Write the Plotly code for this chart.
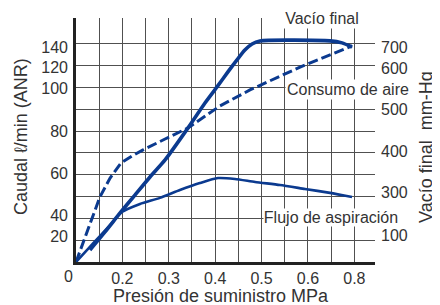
import plotly.graph_objects as go

# Chart coordinates are in grid-cell units (the printed chart uses a non-uniform scale)
# x: one unit per vertical grid line; y: one unit per horizontal grid line (bottom = 0)
vacio_x = [0.60, 1.25, 1.90, 2.54, 3.19, 3.84, 4.83, 5.56, 6.08, 6.55, 6.94, 7.28, 7.59, 7.93, 10.95, 11.47, 11.90]
vacio_y = [0.55, 1.38, 2.25, 3.07, 3.90, 4.68, 6.15, 7.29, 8.03, 8.72, 9.27, 9.72, 10.00, 10.14, 10.14, 10.05, 9.86]

flujo_x = [0, 0.52, 1.03, 1.55, 1.98, 2.76, 3.62, 4.48, 5.34, 6.12, 6.85, 7.72, 8.79, 9.87, 10.95, 11.90]
flujo_y = [0, 0.60, 1.19, 1.79, 2.29, 2.66, 2.94, 3.30, 3.62, 3.85, 3.81, 3.67, 3.53, 3.35, 3.17, 2.98]

consumo_x = [0, 0.52, 1.03, 1.47, 1.94, 2.41, 2.89, 3.84, 4.83, 6.21, 7.50, 9.66, 11.90]
consumo_y = [0, 1.51, 2.98, 3.85, 4.54, 4.86, 5.14, 5.64, 6.15, 7.16, 7.89, 8.94, 9.91]

x_grid = list(range(13))
x_ticktext = ["", "", "0.2", "", "0.3", "", "0.4", "", "0.5", "", "0.6", "", "0.8"]
y_grid = list(range(1, 11))
left_tickvals = [9.82, 8.94, 7.98, 5.97, 4.08, 2.16, 1.19]
left_ticktext = ["140", "120", "100", "80", "60", "40", "20"]
right_tickvals = [9.85, 8.90, 7.02, 5.06, 3.18, 1.24]
right_ticktext = ["700", "600", "500", "400", "300", "100"]

XR = [0, 12.89]
YR = [0, 11.19]
BLUE = "#0b3a8f"
TXT = "#333333"
FONT = "Liberation Sans, Arial, sans-serif"

fig = go.Figure()
fig.add_trace(go.Scatter(x=flujo_x, y=flujo_y, mode="lines", line=dict(color=BLUE, width=2.6, shape="spline", smoothing=0.6), hoverinfo="skip"))
fig.add_trace(go.Scatter(x=consumo_x, y=consumo_y, mode="lines", line=dict(color=BLUE, width=3, dash="10px,4px"), hoverinfo="skip"))
fig.add_trace(go.Scatter(x=vacio_x, y=vacio_y, mode="lines", line=dict(color=BLUE, width=3.6, shape="spline", smoothing=0.6), hoverinfo="skip"))
fig.add_trace(go.Scatter(x=[None], y=[None], yaxis="y2", showlegend=False, hoverinfo="skip"))
fig.add_trace(go.Scatter(x=[None], y=[None], yaxis="y3", showlegend=False, hoverinfo="skip"))

# page body has an 8px margin, so the figure is 8px smaller than the window
fig.update_layout(
    width=432, height=297,
    margin=dict(l=68, r=65, t=10, b=43, autoexpand=False),
    paper_bgcolor="white", plot_bgcolor="white",
    showlegend=False,
    font=dict(family=FONT, size=16, color=TXT),
    xaxis=dict(range=XR, tickmode="array", tickvals=x_grid, ticktext=x_ticktext,
               showgrid=True, gridcolor="#505050", gridwidth=1.4, zeroline=False,
               showline=True, linecolor="#222", linewidth=2.5, ticks="", automargin=False,
               tickfont=dict(size=16, color=TXT), ticklabelstandoff=0),
    yaxis=dict(range=YR, tickmode="array", tickvals=y_grid, showticklabels=False,
               showgrid=True, gridcolor="#505050", gridwidth=1.4, zeroline=False, automargin=False,
               showline=True, linecolor="#222", linewidth=2.5, ticks=""),
    yaxis2=dict(range=YR, overlaying="y", side="left", tickmode="array",
                tickvals=left_tickvals, ticktext=left_ticktext, showgrid=False, automargin=False,
                zeroline=False, showline=False, ticks="", ticklabelstandoff=7,
                tickfont=dict(size=16, color=TXT)),
    yaxis3=dict(range=YR, overlaying="y", side="right", tickmode="array",
                tickvals=right_tickvals, ticktext=right_ticktext, showgrid=False, automargin=False,
                zeroline=False, showline=False, ticks="", ticklabelstandoff=5,
                tickfont=dict(size=16, color=TXT)),
)

ann = dict(showarrow=False, xanchor="center", yanchor="middle", font=dict(family=FONT, size=16, color=TXT))
fig.add_annotation(x=0, y=0, xref="x", yref="y", text="0", xshift=-8, yshift=-14, **ann)
fig.add_annotation(x=10.6, y=11.19, xref="x", yref="y", text="Vacío final", bgcolor="white",
                   width=100, height=20, borderpad=0, **ann)
fig.add_annotation(x=11.72, y=7.89, xref="x", yref="y", text="Consumo de aire", bgcolor="white",
                   width=124, height=19, borderpad=0, **ann)
fig.add_annotation(x=10.99, y=2.02, xref="x", yref="y", text="Flujo de aspiración", bgcolor="white",
                   width=134, height=17, borderpad=0, **ann)

title = dict(showarrow=False, xref="paper", yref="paper", xanchor="center", yanchor="middle",
             font=dict(family=FONT, size=18, color=TXT))
# paper coords relative to plot area (window px: x 76..375, y 18..262)
fig.add_annotation(x=(220.5 - 76) / 299, y=(262 - 296) / 244, text="Presión de suministro MPa", **title)
fig.add_annotation(x=(21 - 76) / 299, y=(262 - 137) / 244, text="Caudal ℓ/min (ANR)", textangle=-90, **title)
fig.add_annotation(x=(426 - 76) / 299, y=(262 - 147) / 244, text="Vacío final  mm-Hg", textangle=-90, **title)

fig.write_html("out.html")
